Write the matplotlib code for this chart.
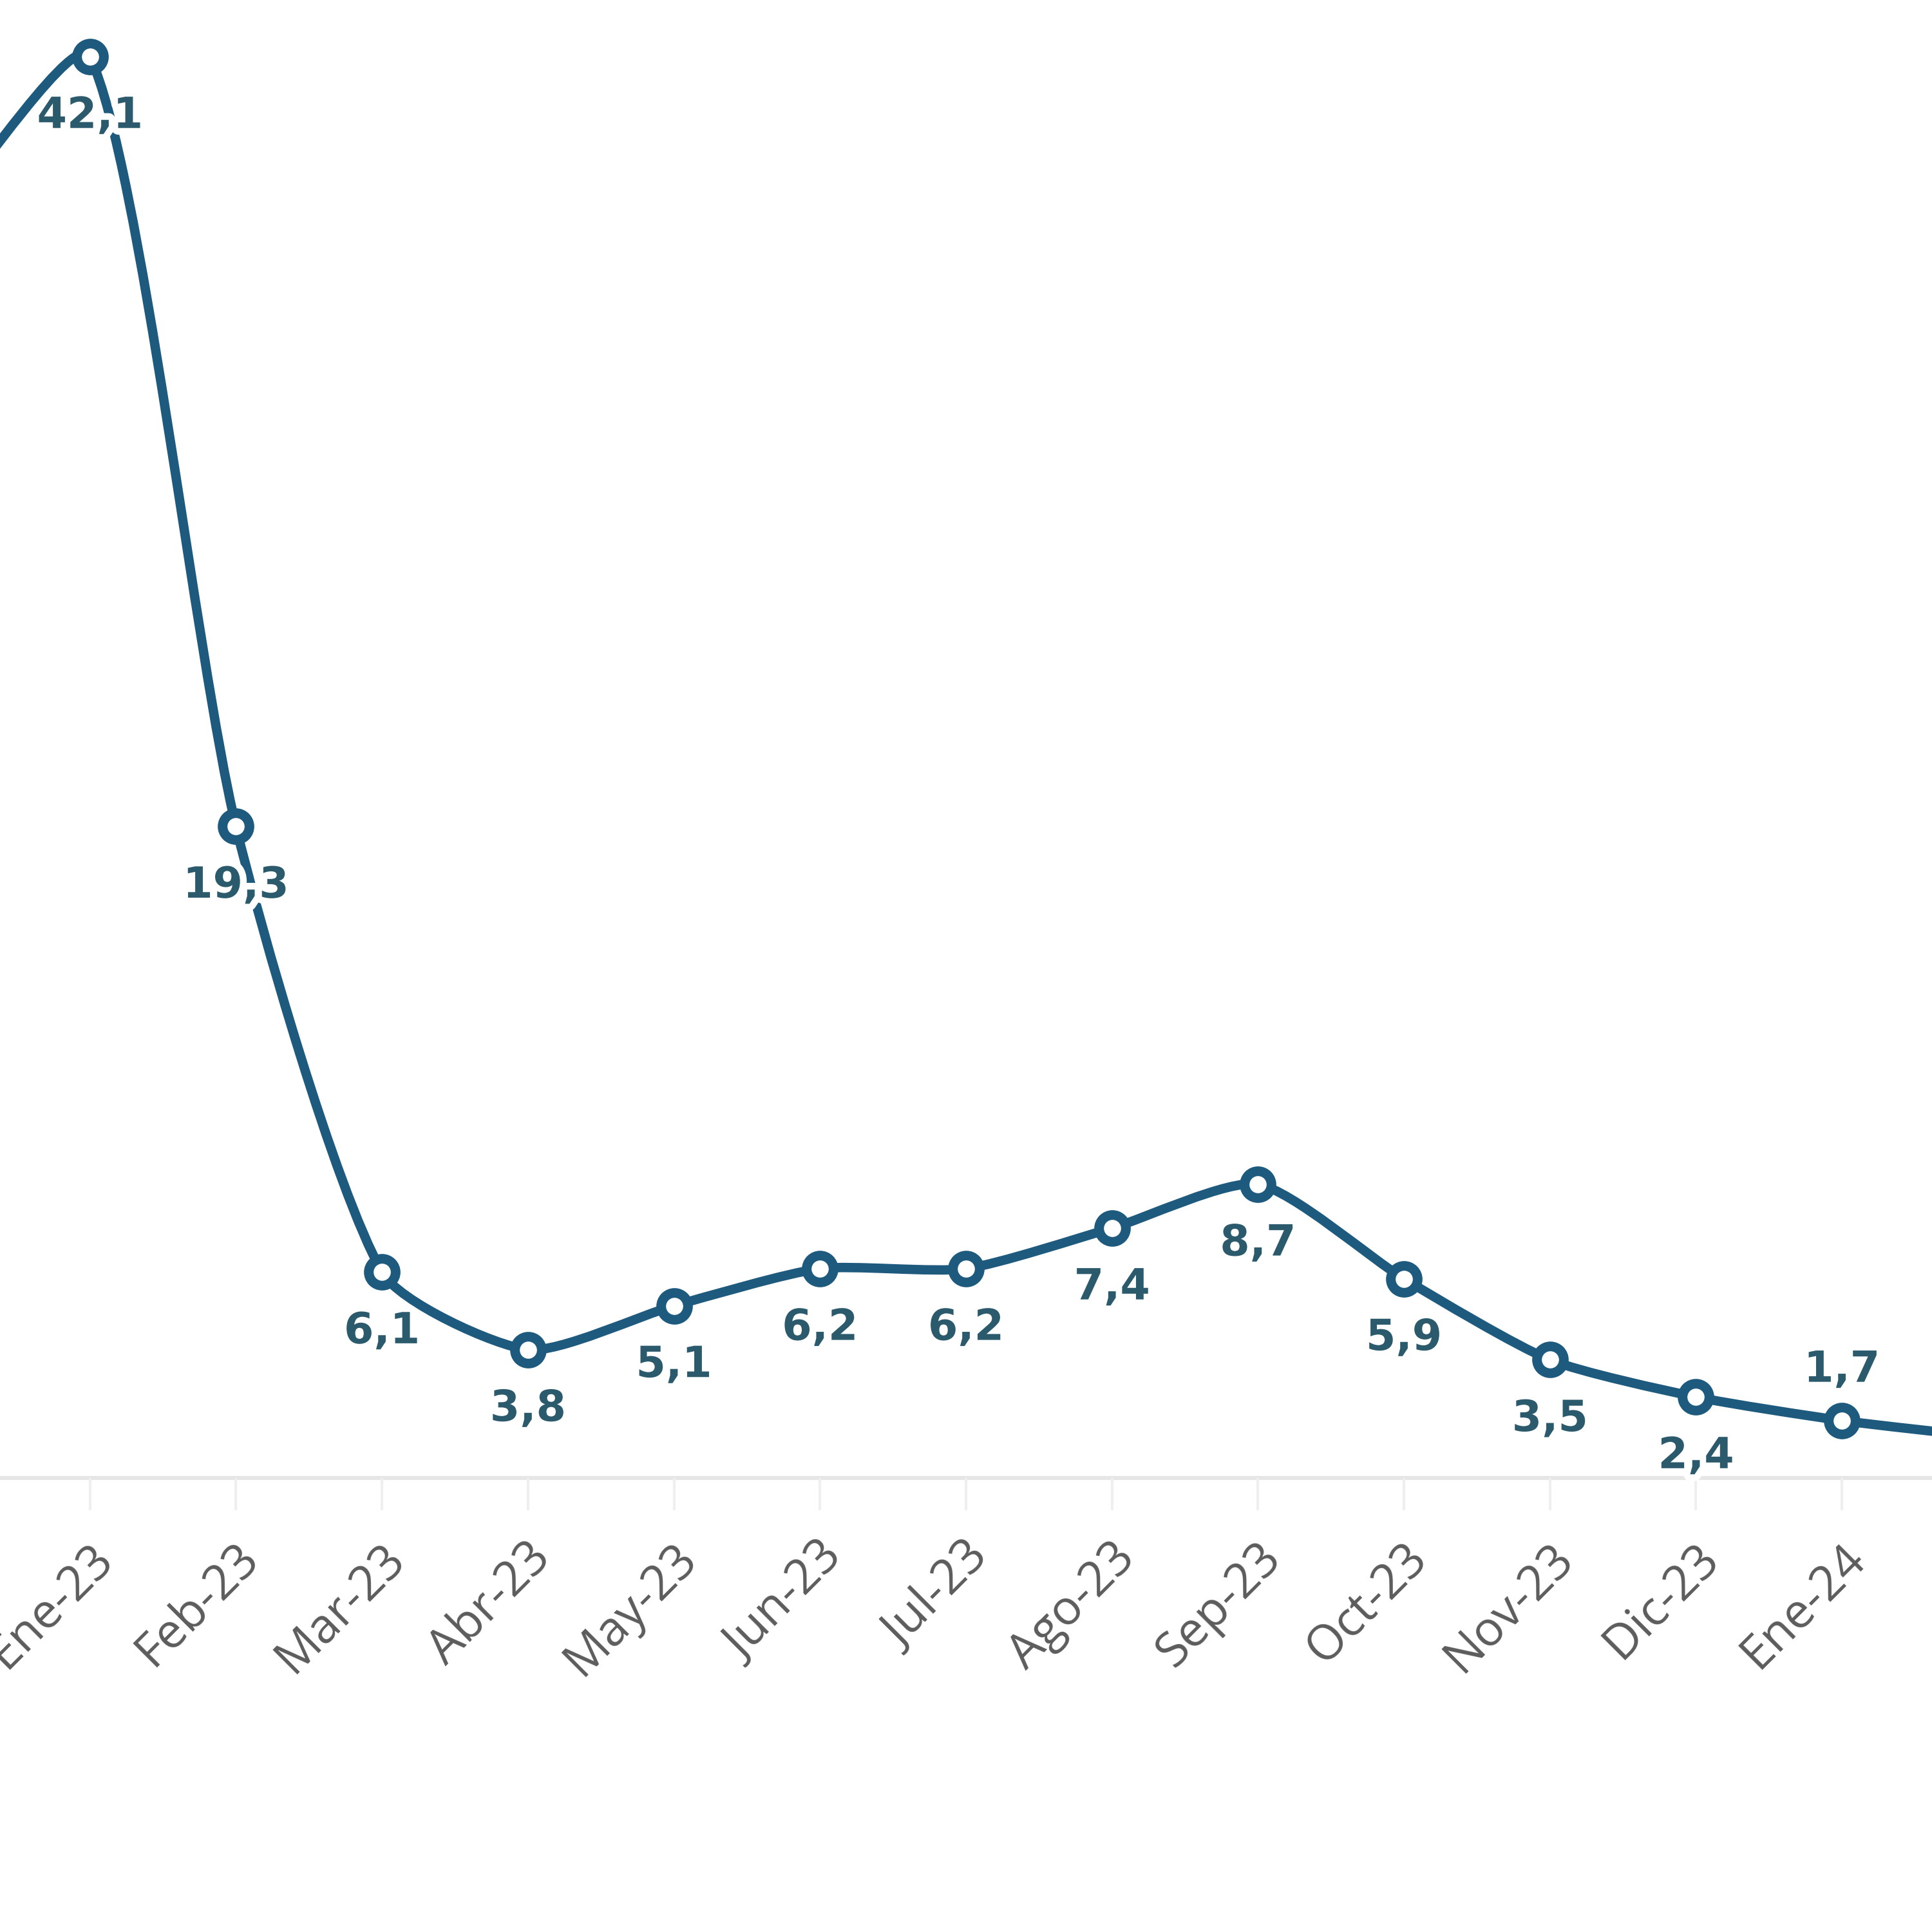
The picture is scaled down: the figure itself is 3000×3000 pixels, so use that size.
import numpy as np
import matplotlib
matplotlib.use("Agg")
import matplotlib.pyplot as plt
from matplotlib.path import Path
from matplotlib.patches import PathPatch
import matplotlib.patheffects as pe

# ---- data ----
categories = ["Dic-22", "Ene-23", "Feb-23", "Mar-23", "Abr-23", "May-23", "Jun-23",
              "Jul-23", "Ago-23", "Sep-23", "Oct-23", "Nov-23", "Dic-23", "Ene-24", "Feb-24"]
values = [37.5, 42.1, 19.3, 6.1, 3.8, 5.1, 6.2, 6.2, 7.4, 8.7, 5.9, 3.5, 2.4, 1.7, 1.2]
label_side = ["below"] * 13 + ["above", "above"]

LINE = "#1d5a7e"
LABEL = "#2b5a6d"
TICK = "#5c5c5c"
TENSION = 0.22

fig = plt.figure(figsize=(10, 10), dpi=300)
ax = fig.add_axes([0, 0, 1, 1])
ax.set_axis_off()
ax.set_xlim(0.3838, 13.617)
ax.set_ylim(-13.45, 43.78)

x = np.arange(len(values), dtype=float)
y = np.array(values, dtype=float)
n = len(x)

# distance-weighted cardinal spline computed in display space
P = ax.transData.transform(np.column_stack([x, y]))
prev_c = np.zeros_like(P)
next_c = np.zeros_like(P)
for i in range(n):
    cur = P[i]
    pv = P[i - 1] if i > 0 else cur
    nx = P[i + 1] if i < n - 1 else cur
    d01 = np.hypot(*(cur - pv))
    d12 = np.hypot(*(nx - cur))
    tot = d01 + d12
    s01 = d01 / tot if tot else 0.0
    s12 = d12 / tot if tot else 0.0
    prev_c[i] = cur - TENSION * s01 * (nx - pv)
    next_c[i] = cur + TENSION * s12 * (nx - pv)

inv = ax.transData.inverted()
verts = [tuple(inv.transform(P[0]))]
codes = [Path.MOVETO]
for i in range(1, n):
    verts += [tuple(inv.transform(next_c[i - 1])), tuple(inv.transform(prev_c[i])),
              tuple(inv.transform(P[i]))]
    codes += [Path.CURVE4] * 3
ax.add_patch(PathPatch(Path(verts, codes), facecolor="none", edgecolor=LINE,
                       lw=3.5, capstyle="round", joinstyle="round", zorder=3))

# baseline and ticks
ax.axhline(0, color="#e6e6e6", lw=1.5, zorder=1)
ax.vlines(x, -0.95, 0, color="#efefef", lw=1.0, zorder=1)

# markers
ax.plot(x, y, linestyle="none", marker="o", ms=10.0, mew=3.6,
        mfc="white", mec=LINE, zorder=4)

# data labels
for i, (v, side) in enumerate(zip(values, label_side)):
    txt = f"{v:.1f}".replace(".", ",")
    dy = -22.0 if side == "below" else 19.0
    ha = "right" if i == n - 1 else "center"
    ax.annotate(txt, (x[i], v), xytext=(0, dy), textcoords="offset points",
                ha=ha, va="center", fontsize=16, fontweight="bold", color=LABEL,
                family="DejaVu Sans", zorder=5,
                path_effects=[pe.withStroke(linewidth=5, foreground="white")])

# category labels
for i, c in enumerate(categories):
    ax.annotate(c, (x[i], 0), xytext=(-0.5, -21), textcoords="offset points",
                ha="right", va="top", rotation=45, rotation_mode="anchor",
                fontsize=18, color=TICK, family=["Open Sans", "DejaVu Sans"], zorder=2)

fig.savefig("out.png", dpi=300, facecolor="white")
